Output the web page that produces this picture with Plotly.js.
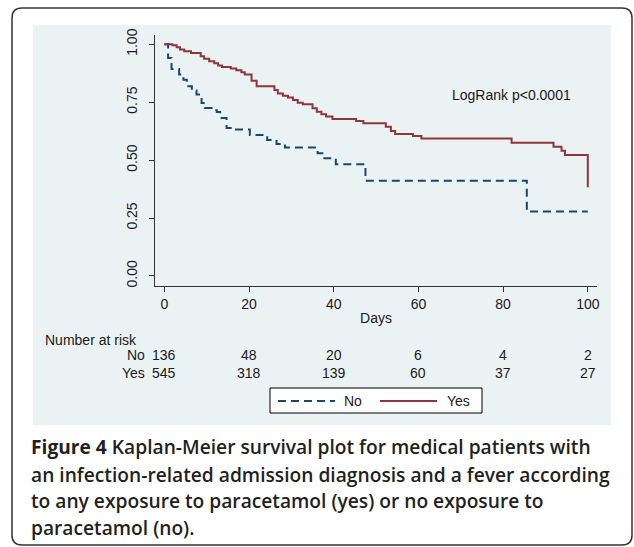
<!DOCTYPE html>
<html>
<head>
<meta charset="utf-8">
<script src="https://cdn.plot.ly/plotly-3.0.1.min.js"></script>
<style>
  html, body { margin: 0; padding: 0; background: #ffffff; }
  #chart { width: 634px; height: 547px; }
</style>
</head>
<body>
<div id="chart"></div>
<script>
// ---- Data ----
const noDays  = [0, 0.9, 1.7, 3.5, 4.5, 5.3, 6.5, 7.6, 8.8, 9.6, 11.5, 12.4, 13.2, 14.7, 16.7, 20.2, 24.3, 26.5, 28.5, 36.2, 37.8, 40.5, 47.5, 85.6, 100];
const noSurv  = [1.0, 0.941, 0.893, 0.870, 0.847, 0.819, 0.800, 0.783, 0.747, 0.725, 0.715, 0.708, 0.682, 0.639, 0.632, 0.608, 0.587, 0.570, 0.554, 0.530, 0.508, 0.482, 0.411, 0.278, 0.278];

const yesDays = [0, 1.9, 2.9, 3.7, 4.7, 6.3, 8.6, 9.4, 10.6, 11.8, 12.7, 13.6, 15.7, 17.0, 18.2, 19.0, 20.6, 21.8, 26.0, 26.8, 28.0, 29.2, 30.4, 31.5, 32.7, 35.0, 36.0, 37.1, 38.2, 39.7, 45.3, 47.0, 52.3, 53.5, 54.5, 58.7, 60.7, 82.0, 91.9, 93.8, 94.6, 100];
const yesSurv = [1.0, 0.996, 0.987, 0.977, 0.970, 0.962, 0.948, 0.938, 0.927, 0.918, 0.908, 0.902, 0.895, 0.888, 0.879, 0.869, 0.843, 0.819, 0.803, 0.788, 0.778, 0.770, 0.760, 0.748, 0.741, 0.724, 0.709, 0.698, 0.688, 0.678, 0.669, 0.659, 0.644, 0.626, 0.613, 0.604, 0.593, 0.575, 0.558, 0.541, 0.522, 0.383];

const riskDays  = [0, 20, 40, 60, 80, 100];
const riskNo    = [136, 48, 20, 6, 4, 2];
const riskYes   = [545, 318, 139, 60, 37, 27];
const xTicks    = [0, 20, 40, 60, 80, 100];
const yTicks    = [0, 0.25, 0.5, 0.75, 1.0];
const yTickText = ["0.00", "0.25", "0.50", "0.75", "1.00"];
const seriesNames = ["No", "Yes"];
const captionLines = [
  "<b>Figure 4</b> Kaplan-Meier survival plot for medical patients with",
  "an infection-related admission diagnosis and a fever according",
  "to any exposure to paracetamol (yes) or no exposure to",
  "paracetamol (no)."
];

// ---- Layout helpers (pixel -> paper) ----
const L = 155, R = 597, T = 35, B = 286;
const XR = [-2.196, 102.17];
const px = x => (x - L) / (R - L);
const py = y => (B - y) / (B - T);

const BLUE = '#1a476f';
const RED = '#90353b';
const TXT = '#1a1a1a';
const FONT = 'Liberation Sans, Arial, sans-serif';

const traces = [
  { x: noDays, y: noSurv, name: seriesNames[0], type: 'scatter', mode: 'lines',
    line: { shape: 'hv', color: BLUE, width: 2, dash: '8px,5px' }, hoverinfo: 'skip' },
  { x: yesDays, y: yesSurv, name: seriesNames[1], type: 'scatter', mode: 'lines',
    line: { shape: 'hv', color: RED, width: 2 }, hoverinfo: 'skip' }
];

const ann = [];
ann.push({ xref: 'paper', yref: 'paper', x: px(573), y: py(95), xanchor: 'right', yanchor: 'middle',
  text: 'LogRank p<0.0001', showarrow: false, font: { family: FONT, size: 14, color: TXT } });
ann.push({ xref: 'paper', yref: 'paper', x: px(43), y: py(340), xanchor: 'left', yanchor: 'middle',
  text: 'Number at risk', showarrow: false, font: { family: FONT, size: 14, color: TXT } });
ann.push({ xref: 'paper', yref: 'paper', x: px(147), y: py(355), xanchor: 'right', yanchor: 'middle',
  text: seriesNames[0], showarrow: false, font: { family: FONT, size: 14, color: TXT } });
ann.push({ xref: 'paper', yref: 'paper', x: px(147), y: py(373), xanchor: 'right', yanchor: 'middle',
  text: seriesNames[1], showarrow: false, font: { family: FONT, size: 14, color: TXT } });
riskDays.forEach((d, i) => {
  ann.push({ xref: 'x', yref: 'paper', x: d, y: py(355), xanchor: 'center', yanchor: 'middle',
    text: String(riskNo[i]), showarrow: false, font: { family: FONT, size: 14, color: TXT } });
  ann.push({ xref: 'x', yref: 'paper', x: d, y: py(373), xanchor: 'center', yanchor: 'middle',
    text: String(riskYes[i]), showarrow: false, font: { family: FONT, size: 14, color: TXT } });
});
ann.push({ xref: 'paper', yref: 'paper', x: px(342), y: py(401), xanchor: 'left', yanchor: 'middle',
  text: seriesNames[0], showarrow: false, font: { family: FONT, size: 14, color: TXT } });
ann.push({ xref: 'paper', yref: 'paper', x: px(445), y: py(401), xanchor: 'left', yanchor: 'middle',
  text: seriesNames[1], showarrow: false, font: { family: FONT, size: 14, color: TXT } });
const capY = [447, 474, 500, 527];
captionLines.forEach((t, i) => {
  ann.push({ xref: 'paper', yref: 'paper', x: px(29), y: py(capY[i]), xanchor: 'left', yanchor: 'middle',
    text: t, showarrow: false, font: { family: 'Open Sans, sans-serif', size: 19.2, color: '#231f20', weight: 600 } });
});

const fx0 = px(12), fx1 = px(632), fy0 = py(545), fy1 = py(8);
const rx = 10 / (R - L), ry = 10 / (B - T);
const framePath = `M ${fx0 + rx} ${fy1} L ${fx1 - rx} ${fy1} Q ${fx1} ${fy1} ${fx1} ${fy1 - ry} ` +
  `L ${fx1} ${fy0 + ry} Q ${fx1} ${fy0} ${fx1 - rx} ${fy0} L ${fx0 + rx} ${fy0} Q ${fx0} ${fy0} ${fx0} ${fy0 + ry} ` +
  `L ${fx0} ${fy1 - ry} Q ${fx0} ${fy1} ${fx0 + rx} ${fy1} Z`;

const shapes = [
  { type: 'path', xref: 'paper', yref: 'paper', path: framePath, line: { color: '#333333', width: 1.5 }, layer: 'below' },
  { type: 'rect', xref: 'paper', yref: 'paper', x0: px(33), x1: px(611), y0: py(425), y1: py(25),
    fillcolor: '#eaf2f3', line: { width: 0 }, layer: 'below' },
  { type: 'rect', xref: 'paper', yref: 'paper', x0: px(270), x1: px(482), y0: py(413), y1: py(388),
    fillcolor: '#ffffff', line: { color: '#000000', width: 1 }, layer: 'above' },
  { type: 'line', xref: 'paper', yref: 'paper', x0: px(278), x1: px(335), y0: py(401), y1: py(401),
    line: { color: BLUE, width: 2, dash: '8px,5px' }, layer: 'above' },
  { type: 'line', xref: 'paper', yref: 'paper', x0: px(380), x1: px(437), y0: py(401), y1: py(401),
    line: { color: RED, width: 2 }, layer: 'above' }
];

const layout = {
  width: 634, height: 547,
  margin: { l: L, r: 634 - R, t: T, b: 547 - B, pad: 0 },
  paper_bgcolor: '#ffffff',
  plot_bgcolor: '#ffffff',
  showlegend: false,
  font: { family: FONT, size: 14, color: TXT },
  xaxis: {
    range: XR, tickvals: xTicks, ticktext: xTicks.map(String),
    showgrid: false, zeroline: false,
    showline: true, linecolor: '#333333', linewidth: 1,
    ticks: 'outside', ticklen: 5, tickcolor: '#333333', tickwidth: 1,
    tickfont: { family: FONT, size: 14, color: TXT },
    title: { text: 'Days', font: { family: FONT, size: 14, color: TXT }, standoff: 2 }
  },
  yaxis: {
    range: [-0.0432, 1.040], tickvals: yTicks, ticktext: yTickText,
    tickangle: -90,
    showgrid: true, gridcolor: '#e9f1f3', gridwidth: 1, zeroline: false,
    showline: true, linecolor: '#333333', linewidth: 1,
    ticks: 'outside', ticklen: 5, tickcolor: '#333333', tickwidth: 1,
    tickfont: { family: FONT, size: 14, color: TXT },
    ticklabelstandoff: 6
  },
  shapes: shapes,
  annotations: ann
};

Plotly.newPlot('chart', traces, layout, { staticPlot: true, displayModeBar: false });
</script>
</body>
</html>
